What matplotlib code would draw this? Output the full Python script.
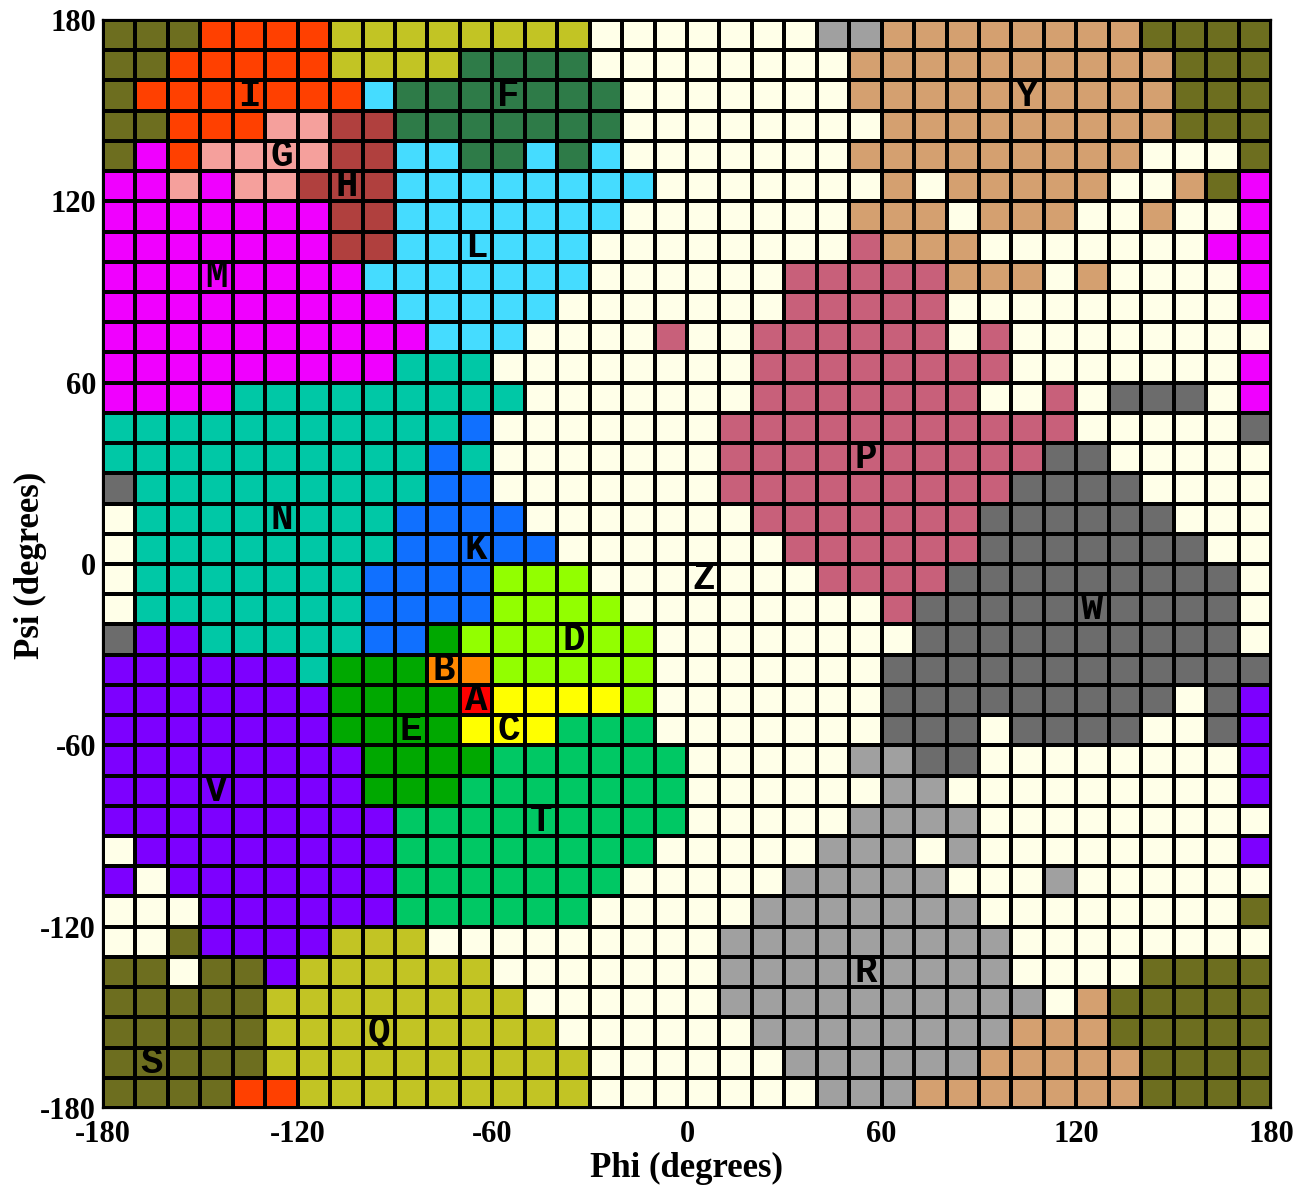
import matplotlib
matplotlib.use("Agg")
import matplotlib.pyplot as plt
import numpy as np
from matplotlib.colors import ListedColormap

plt.rcParams["axes.unicode_minus"] = False

# Region letter for every 10x10 degree bin, top row = psi 170..180, left col = phi -180..-170
grid_rows = [
    "SSSIIIIQQQQQ" "QQQZZZZZZZRR" "YYYYYYYYSSSS",
    "SSIIIIIQQQQF" "FFFZZZZZZZZY" "YYYYYYYYYSSS",
    "SIIIIIIILFFF" "FFFFZZZZZZZY" "YYYYYYYYYSSS",
    "SSIIIGGHHFFF" "FFFFZZZZZZZZ" "YYYYYYYYYSSS",
    "SMIGGGGHHLLF" "FLFLZZZZZZZY" "YYYYYYYYZZZS",
    "MMGMGGHHHLLL" "LLLLLZZZZZZZ" "YZYYYYYZZYSM",
    "MMMMMMMHHLLL" "LLLLZZZZZZZY" "YYZYYYZZYZZM",
    "MMMMMMMHHLLL" "LLLZZZZZZZZP" "YYYZZZZZZZMM",
    "MMMMMMMMLLLL" "LLLZZZZZZPPP" "PPYYYZYZZZZM",
    "MMMMMMMMMLLL" "LLZZZZZZZPPP" "PPZZZZZZZZZM",
    "MMMMMMMMMMLL" "LZZZZPZZPPPP" "PPZPZZZZZZZZ",
    "MMMMMMMMMNNN" "ZZZZZZZZPPPP" "PPPPZZZZZZZM",
    "MMMMNNNNNNNN" "NZZZZZZZPPPP" "PPPZZPZWWWZM",
    "NNNNNNNNNNNK" "ZZZZZZZPPPPP" "PPPPPPZZZZZW",
    "NNNNNNNNNNKN" "ZZZZZZZPPPPP" "PPPPPWWZZZZZ",
    "WNNNNNNNNNKK" "ZZZZZZZPPPPP" "PPPPWWWWZZZZ",
    "ZNNNNNNNNKKK" "KZZZZZZZPPPP" "PPPWWWWWWZZZ",
    "ZNNNNNNNNKKK" "KKZZZZZZZPPP" "PPPWWWWWWWZZ",
    "ZNNNNNNNKKKK" "DDDZZZZZZZPP" "PPWWWWWWWWWZ",
    "ZNNNNNNNKKKK" "DDDDZZZZZZZZ" "PWWWWWWWWWWZ",
    "WVVNNNNNKKED" "DDDDDZZZZZZZ" "ZWWWWWWWWWWZ",
    "VVVVVVNEEEBB" "DDDDDZZZZZZZ" "WWWWWWWWWWWW",
    "VVVVVVVEEEEA" "CCCCDZZZZZZZ" "WWWWWWWWWZWV",
    "VVVVVVVEEEEC" "CCTTTZZZZZZZ" "WWWZWWWWZZWV",
    "VVVVVVVVEEEE" "TTTTTTZZZZZR" "RWWZZZZZZZZV",
    "VVVVVVVVEEET" "TTTTTTZZZZZZ" "RRZZZZZZZZZV",
    "VVVVVVVVVTTT" "TTTTTTZZZZZR" "RRRZZZZZZZZZ",
    "ZVVVVVVVVTTT" "TTTTTZZZZZRR" "RZRZZZZZZZZV",
    "VZVVVVVVVTTT" "TTTTZZZZZRRR" "RRZZZRZZZZZZ",
    "ZZZVVVVVVTTT" "TTTZZZZZRRRR" "RRRZZZZZZZZS",
    "ZZSVVVVQQQZZ" "ZZZZZZZRRRRR" "RRRRZZZZZZZZ",
    "SSZSSVQQQQQQ" "ZZZZZZZRRRRR" "RRRRZZZZSSSS",
    "SSSSSQQQQQQQ" "QZZZZZZRRRRR" "RRRRRZYSSSSS",
    "SSSSSQQQQQQQ" "QQZZZZZZRRRR" "RRRRYYYSSSSS",
    "SSSSSQQQQQQQ" "QQQZZZZZZRRR" "RRRYYYYYSSSS",
    "SSSSIIQQQQQQ" "QQQZZZZZZZRR" "RYYYYYYYSSSS",
]

region_colors = {
    "A": "#FF0000", "B": "#FF8800", "C": "#FFFF00", "D": "#92FF00",
    "E": "#00A800", "F": "#2E7B48", "G": "#F5A09C", "H": "#B0403E",
    "I": "#FF4000", "K": "#1070FF", "L": "#45DCFF", "M": "#F000FF",
    "N": "#00C8A6", "P": "#C8607A", "Q": "#C2C424", "R": "#A0A0A0",
    "S": "#6D6E1F", "T": "#00C864", "V": "#7D00FF", "W": "#6C6C6C",
    "Y": "#D4A070", "Z": "#FFFFE8",
}

# label letter, phi, psi (bin centres)
label_names = ["I", "F", "Y", "G", "H", "L", "M", "P", "N", "K", "Z",
               "W", "D", "B", "A", "C", "E", "V", "T", "R", "Q", "S"]
label_phi = [-135, -55, 105, -125, -105, -65, -145, 55, -125, -65, 5,
             125, -35, -75, -65, -55, -85, -145, -45, 55, -95, -165]
label_psi = [155, 155, 155, 135, 125, 105, 95, 35, 15, 5, -5,
             -15, -25, -35, -45, -55, -55, -75, -85, -135, -155, -165]

letters = list(region_colors.keys())
cmap = ListedColormap([region_colors[k] for k in letters])
idx = np.array([[letters.index(c) for c in row] for row in grid_rows])[::-1]

edges = np.arange(-180, 181, 10)

fig = plt.figure(figsize=(13.01, 11.86), dpi=100)
ax = fig.add_axes([103 / 1301, 78 / 1186, 1168 / 1301, 1088 / 1186])
ax.pcolormesh(edges, edges, idx, cmap=cmap, vmin=-0.5, vmax=len(letters) - 0.5,
              edgecolors="black", linewidth=1.5)

for name, x, y in zip(label_names, label_phi, label_psi):
    ax.text(x, y, name, ha="center", va="center", fontsize=27,
            fontfamily="Liberation Mono", fontweight="bold", color="black")

ax.set_xlim(-180, 180)
ax.set_ylim(-180, 180)
ticks = [-180, -120, -60, 0, 60, 120, 180]
ax.set_xticks(ticks)
ax.set_yticks(ticks)
ax.tick_params(axis="x", length=0, pad=9)
ax.tick_params(axis="y", length=0, pad=5)
for lab in ax.get_xticklabels() + ax.get_yticklabels():
    lab.set_fontfamily("Liberation Serif")
    lab.set_fontweight("bold")
    lab.set_fontsize(22)
for s in ax.spines.values():
    s.set_linewidth(1.6)

# axis titles placed in figure pixels
fig.text(687 / 1301, 1 - 1168 / 1186, "Phi (degrees)", ha="center", va="center",
         fontfamily="Liberation Serif", fontweight="bold", fontsize=25)
fig.text(30 / 1301, 1 - 565 / 1186, "Psi (degrees)", ha="center", va="center",
         rotation=90, fontfamily="Liberation Serif", fontweight="bold", fontsize=25)

fig.savefig("out.png", dpi=100)
